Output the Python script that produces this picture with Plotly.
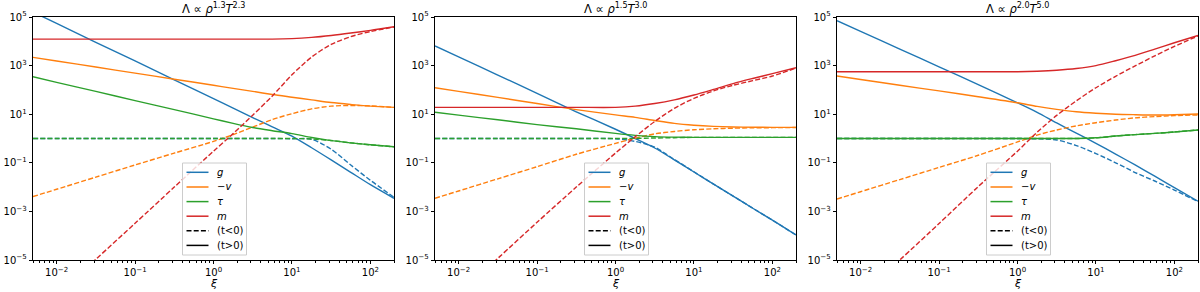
import plotly.graph_objects as go

# ---------------- data ----------------
xi = [0.005, 0.01, 0.0316, 0.1, 0.316, 1.0, 1.78, 3.16, 5.62, 10.0, 17.8, 31.6, 56.2, 100.0, 200.0]

rho_exp = ["1.3", "1.5", "2.0"]
T_exp = ["2.3", "3.0", "5.0"]

# panel 1
g_pos_1 = [1.585e5, 5.50e4, 9.12e3, 1.55e3, 257, 43.6, 17.8, 7.24, 3.02, 1.26, 0.417, 0.132, 0.0407, 0.0126, 0.00347]
g_neg_1 = [1, 1, 1, 1, 1, 1, 1, 1, 1, 0.977, 0.933, 0.363, 0.0813, 0.0191, 0.0038]
v_pos_1 = [2190, 1550, 871, 490, 275, 155, 115, 87.1, 64.6, 50.1, 38.9, 30.2, 25.1, 21.4, 19.1]
v_neg_1 = [4.07e-3, 8.13e-3, 0.0257, 0.0813, 0.251, 0.759, 1.445, 2.95, 6.03, 10.5, 16.6, 21.4, 22.9, 21.9, 19.1]
tau_pos_1 = [347, 204, 87.1, 36.3, 15.5, 6.46, 4.17, 2.82, 2.09, 1.585, 1.096, 0.813, 0.661, 0.550, 0.457]
tau_neg_1 = [1, 1, 1, 1, 1, 1, 1, 1, 1, 1, 0.955, 0.832, 0.661, 0.550, 0.457]
m_pos_1 = [12300, 12300, 12300, 12300, 12300, 12300, 12300, 12300, 12300, 12900, 14500, 17400, 21900, 28200, 39800]
m_neg_1 = [5.0e-8, 3.63e-7, 1.07e-5, 3.24e-4, 0.01, 0.302, 1.585, 9.12, 56.2, 417, 2240, 7410, 15500, 25100, 38900]

# panel 2
g_pos_2 = [6460, 2290, 407, 72.4, 12.6, 2.40, 1.0, 0.407, 0.132, 0.0417, 0.0132, 4.27e-3, 1.35e-3, 4.37e-4, 1.07e-4]
g_neg_2 = [1, 1, 1, 1, 1, 0.977, 0.759, 0.437, 0.138, 0.0427, 0.0132, 4.27e-3, 1.35e-3, 4.37e-4, 1.07e-4]
v_pos_2 = [123, 87.1, 49.0, 27.5, 15.5, 9.33, 7.41, 5.50, 4.17, 3.51, 3.16, 2.99, 2.92, 2.88, 2.88]
v_neg_2 = [3.47e-3, 6.92e-3, 0.0219, 0.0692, 0.224, 0.631, 1.023, 1.55, 1.95, 2.29, 2.51, 2.66, 2.75, 2.79, 2.82]
tau_pos_2 = [12.0, 9.12, 5.89, 3.72, 2.51, 1.62, 1.35, 1.20, 1.135, 1.11, 1.11, 1.11, 1.11, 1.11, 1.11]
tau_neg_2 = [1, 1, 1, 1, 1, 1, 1.01, 1.05, 1.08, 1.11, 1.11, 1.11, 1.11, 1.11, 1.11]
m_pos_2 = [19.1, 19.1, 19.1, 19.1, 19.1, 19.1, 21.4, 27.5, 38.9, 61.7, 105, 182, 295, 468, 822]
m_neg_2 = [5.0e-8, 3.98e-7, 1.17e-5, 3.55e-4, 0.01, 0.251, 1.175, 5.01, 17.4, 44.7, 91.2, 155, 240, 372, 794]

# panel 3
g_pos_3 = [70800, 25700, 4790, 891, 166, 29.5, 12.0, 4.37, 1.66, 0.631, 0.229, 0.0813, 0.0282, 9.55e-3, 2.63e-3]
g_neg_3 = [1, 1, 1, 1, 1, 1, 0.966, 0.871, 0.513, 0.240, 0.1, 0.0398, 0.0178, 7.59e-3, 2.51e-3]
v_pos_3 = [372, 269, 155, 91.2, 52.5, 29.5, 20.9, 15.8, 12.6, 11.0, 10.0, 9.55, 9.27, 9.55, 10.2]
v_neg_3 = [3.24e-3, 6.46e-3, 0.0204, 0.0646, 0.204, 0.724, 1.38, 2.24, 3.31, 4.47, 5.75, 7.08, 7.94, 8.71, 9.33]
tau_pos_3 = [1, 1, 1, 1, 1, 1, 1, 1, 1, 1.07, 1.26, 1.45, 1.62, 1.86, 2.24]
tau_neg_3 = [1, 1, 1, 1, 1, 1, 1, 1, 1, 1.07, 1.26, 1.45, 1.62, 1.86, 2.24]
m_pos_3 = [562, 562, 562, 562, 562, 562, 589, 646, 759, 1000, 1585, 2630, 4790, 8710, 17400]
m_neg_3 = [3.98e-8, 3.16e-7, 1.0e-5, 3.16e-4, 0.0105, 0.302, 1.82, 8.91, 35.5, 123, 363, 977, 2510, 6170, 16600]

series_names = ["<i>g</i>", "−<i>v</i>", "<i>τ</i>", "<i>m</i>"]
style_names = ["(t&lt;0)", "(t&gt;0)"]
x_label = "<i>ξ</i>"

x_tickvals = [0.01, 0.1, 1, 10, 100]
x_ticktext = ["10<sup>−2</sup>", "10<sup>−1</sup>", "10<sup>0</sup>", "10<sup>1</sup>", "10<sup>2</sup>"]
y_tickvals = [1e-5, 1e-3, 1e-1, 1e1, 1e3, 1e5]
y_ticktext = ["10<sup>−5</sup>", "10<sup>−3</sup>", "10<sup>−1</sup>", "10<sup>1</sup>", "10<sup>3</sup>", "10<sup>5</sup>"]

panels = [
    [(g_neg_1, g_pos_1), (v_neg_1, v_pos_1), (tau_neg_1, tau_pos_1), (m_neg_1, m_pos_1)],
    [(g_neg_2, g_pos_2), (v_neg_2, v_pos_2), (tau_neg_2, tau_pos_2), (m_neg_2, m_pos_2)],
    [(g_neg_3, g_pos_3), (v_neg_3, v_pos_3), (tau_neg_3, tau_pos_3), (m_neg_3, m_pos_3)],
]

# ---------------- styling ----------------
colors = ["#1f77b4", "#ff7f0e", "#2ca02c", "#d62728"]
W, H = 1200, 292
px_left = [33, 435, 837]
px_width = 361
top, bottom = 17, 260
plot_h = bottom - top
FONT = "DejaVu Sans"
LW = 1.4
DASH = "5px,2.2px"


def px_x(px):
    return px / W


def px_y(py):
    return (bottom - py) / plot_h


fig = go.Figure()
shapes = []
annotations = []

# legend layout (pixels relative to panel centre / absolute rows)
leg_box = (-31, 33, 163, 255)
leg_line = (-27, -5)
leg_text_x = 1
leg_rows = [172.3, 187.0, 201.6, 216.2, 230.8, 245.4]

for p, quantities in enumerate(panels):
    sfx = "" if p == 0 else str(p + 1)
    xa, ya = "x" + sfx, "y" + sfx
    for q, (neg, pos) in enumerate(quantities):
        fig.add_trace(go.Scatter(x=xi, y=neg, mode="lines", xaxis=xa, yaxis=ya, name=series_names[q] + " " + style_names[0],
                                 line=dict(color=colors[q], width=LW, dash=DASH, shape="spline", smoothing=0.8),
                                 showlegend=False, hoverinfo="skip"))
        fig.add_trace(go.Scatter(x=xi, y=pos, mode="lines", xaxis=xa, yaxis=ya, name=series_names[q] + " " + style_names[1],
                                 line=dict(color=colors[q], width=LW, shape="spline", smoothing=0.8),
                                 showlegend=False, hoverinfo="skip"))

    d0 = px_x(px_left[p])
    d1 = px_x(px_left[p] + px_width)
    cpx = px_left[p] + px_width / 2
    axis_common = dict(type="log", showgrid=False, zeroline=False, showline=True, mirror=True,
                       linecolor="black", linewidth=0.8, ticks="outside", ticklen=3.5, tickwidth=0.8,
                       tickcolor="black", automargin=False,
                       tickfont=dict(family=FONT, size=10, color="black"))
    fig.update_layout(**{
        "xaxis" + sfx: dict(axis_common, domain=[d0, d1], anchor=ya, range=[-2.301, 2.301],
                            tickmode="array", tickvals=x_tickvals, ticktext=x_ticktext,
                            minor=dict(ticks="outside", ticklen=2, tickwidth=0.6, tickcolor="black",
                                       dtick="D1", showgrid=False)),
        "yaxis" + sfx: dict(axis_common, domain=[0, 1], anchor=xa, range=[-5, 5],
                            tickmode="array", tickvals=y_tickvals, ticktext=y_ticktext),
    })
    # title
    annotations.append(dict(x=(d0 + d1) / 2, y=1.0, xref="paper", yref="paper", xanchor="center",
                            yanchor="bottom", yshift=0, showarrow=False, borderpad=0,
                            text="Λ ∝ <i>ρ</i><sup>" + rho_exp[p] + "</sup><i>T</i><sup>" + T_exp[p] + "</sup>",
                            font=dict(family=FONT, size=11.5, color="black")))
    # x label
    annotations.append(dict(x=(d0 + d1) / 2, y=px_y(283.5), xref="paper", yref="paper", xanchor="center",
                            yanchor="middle", showarrow=False, text=x_label,
                            font=dict(family=FONT, size=11, color="black")))
    # legend box
    shapes.append(dict(type="rect", xref="paper", yref="paper",
                       x0=px_x(cpx + leg_box[0]), x1=px_x(cpx + leg_box[1]),
                       y0=px_y(leg_box[3]), y1=px_y(leg_box[2]),
                       line=dict(color="#cccccc", width=1), fillcolor="rgba(255,255,255,0.8)", layer="above"))
    entries = [(colors[q], "solid", series_names[q]) for q in range(4)]
    entries += [("black", DASH, style_names[0]), ("black", "solid", style_names[1])]
    for r, (c, dsh, label) in enumerate(entries):
        yy = px_y(leg_rows[r])
        shapes.append(dict(type="line", xref="paper", yref="paper",
                           x0=px_x(cpx + leg_line[0]), x1=px_x(cpx + leg_line[1]), y0=yy, y1=yy,
                           line=dict(color=c, width=1.5, dash=dsh), layer="above"))
        annotations.append(dict(x=px_x(cpx + leg_text_x), y=yy, xref="paper", yref="paper",
                                xanchor="left", yanchor="middle", showarrow=False, text=label,
                                font=dict(family=FONT, size=10, color="black")))

fig.update_layout(width=W, height=H, margin=dict(l=0, r=0, t=top, b=H - bottom),
                  paper_bgcolor="white", plot_bgcolor="white", font=dict(family=FONT),
                  showlegend=False, shapes=shapes, annotations=annotations)

fig.write_html("out.html", config={"displayModeBar": False},
               post_script="document.body.style.margin='0px';")
